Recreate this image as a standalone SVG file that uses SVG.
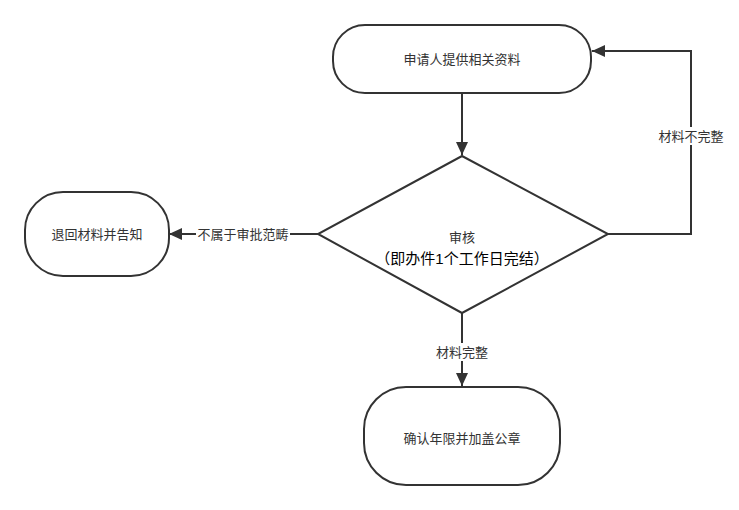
<svg xmlns="http://www.w3.org/2000/svg" width="739" height="510" viewBox="0 0 739 510">
<style>
.n{fill:#fff;stroke:#333;stroke-width:2}
.t{font-family:"Liberation Sans","Noto Sans CJK SC",sans-serif;font-size:13px;fill:#333;text-anchor:middle;dominant-baseline:central}
.b{font-family:"Liberation Sans","Noto Sans CJK SC",sans-serif;font-size:15px;fill:#000;text-anchor:middle;dominant-baseline:central}
.e{fill:none;stroke:#333;stroke-width:2}
.lb{fill:#fff}
</style>
<defs>
<marker id="arr" markerWidth="14" markerHeight="12" refX="13" refY="6" orient="auto" markerUnits="userSpaceOnUse">
<path d="M0,0 L13,6 L0,12 Z" fill="#333"/>
</marker>
</defs>
<rect width="739" height="510" fill="#fff"/>
<g id="edges">
<path class="e" d="M462,93 V155" marker-end="url(#arr)"/>
<path class="e" d="M608,234 H691 V51 H592" marker-end="url(#arr)"/>
<rect class="lb" x="656" y="127" width="70" height="18"/>
<text class="t" x="691" y="136">材料不完整</text>
<path class="e" d="M318,234 H169" marker-end="url(#arr)"/>
<rect class="lb" x="196" y="225" width="94" height="18"/>
<text class="t" x="243" y="234">不属于审批范畴</text>
<path class="e" d="M462,313 V386" marker-end="url(#arr)"/>
<rect class="lb" x="434" y="343" width="56" height="18"/>
<text class="t" x="462" y="352">材料完整</text>
</g>
<g id="n1">
<rect class="n" x="333" y="25" width="258" height="68" rx="32" ry="32"/>
<text class="t" x="462" y="59">申请人提供相关资料</text>
</g>
<g id="n2">
<path class="n" d="M462,156 L608,234 L462,313 L318,234 Z"/>
<text class="t" x="462" y="237">审核</text>
<text class="b" x="462" y="258">（即办件1个工作日完结）</text>
</g>
<g id="n3">
<rect class="n" x="25" y="192" width="144" height="84" rx="38" ry="38"/>
<text class="t" x="97" y="234">退回材料并告知</text>
</g>
<g id="n4">
<rect class="n" x="364" y="387" width="196" height="98" rx="42" ry="42"/>
<text class="t" x="462" y="438">确认年限并加盖公章</text>
</g>
</svg>
